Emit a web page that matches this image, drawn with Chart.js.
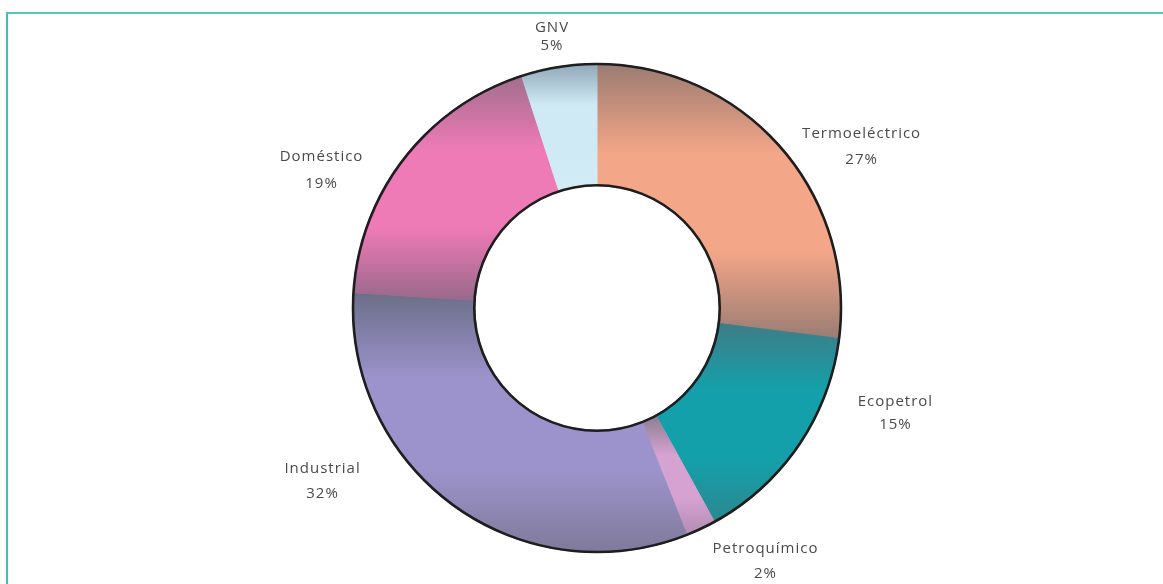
<!DOCTYPE html>
<html>
<head>
<meta charset="utf-8">
<script src="https://cdn.jsdelivr.net/npm/chart.js@4"></script>
<style>
  html, body { margin: 0; padding: 0; background: #fff; }
  #wrap { position: relative; width: 1163px; height: 584px; overflow: hidden; }
  #frame { position: absolute; left: 6px; top: 12px; right: 0; bottom: -10px;
           border-top: 2px solid #55c9b9; border-left: 2px solid #3fbfae; }
  canvas { position: absolute; left: 0; top: 0; }
</style>
</head>
<body>
<div id="wrap">
  <div id="frame"></div>
  <canvas id="chart" width="1163" height="584"></canvas>
</div>
<script>
// Datos del gráfico (consumo de gas por sector)
const SECTORS = ["Termoeléctrico", "Ecopetrol", "Petroquímico", "Industrial", "Doméstico", "GNV"];
const SHARES = [27, 15, 2, 32, 19, 5];
const SHARE_LABELS = ["27%", "15%", "2%", "32%", "19%", "5%"];

// Colores de cada porción: parte alta, centro, parte baja (degradado vertical)
const TOP_COLOR = ["#9a7b71", "#3e7c86", "#8a7e92", "#6b6e88", "#a06e8c", "#8fa6b6"];
const MID_COLOR = ["#f4a688", "#14a0aa", "#d6a2d2", "#9c93cc", "#ee7ab6", "#cfeaf5"];
const BOT_COLOR = ["#9a7c73", "#2c878f", "#b28cb4", "#7f7a9a", "#98698a", "#d2ecf6"];

// Posición de etiquetas: ángulo (grados desde arriba) y distancia relativa al radio
const LABEL_ANGLE = [58.6, 109.4, 146.4, 237.7, 296.6, -9.4];
const LABEL_DIST = [1.268, 1.294, 1.245, 1.328, 1.26, 1.126];
const LABEL_GAP = [26, 23, 25, 25, 27, 18];

const CUTOUT = 0.5;
const gradientCache = {};

function sliceGradient(chart, i) {
  const area = chart.chartArea;
  if (!area) return MID_COLOR[i];
  const cx = (area.left + area.right) / 2;
  const cy = (area.top + area.bottom) / 2;
  const R = Math.min(area.right - area.left, area.bottom - area.top) / 2;
  const key = i + ":" + cx + "," + cy + "," + R;
  if (gradientCache[key]) return gradientCache[key];
  const total = SHARES.reduce((s, v) => s + v, 0);
  const before = SHARES.slice(0, i).reduce((s, v) => s + v, 0);
  const a0 = before / total * Math.PI * 2;
  const a1 = (before + SHARES[i]) / total * Math.PI * 2;
  // extensión vertical de la porción
  let yMin = Infinity, yMax = -Infinity;
  for (let k = 0; k <= 40; k++) {
    const a = a0 + (a1 - a0) * k / 40;
    [R, R * CUTOUT].forEach((r) => {
      const y = cy - r * Math.cos(a);
      yMin = Math.min(yMin, y);
      yMax = Math.max(yMax, y);
    });
  }
  const g = chart.ctx.createLinearGradient(0, yMin, 0, yMax);
  g.addColorStop(0, TOP_COLOR[i]);
  g.addColorStop(0.33, MID_COLOR[i]);
  g.addColorStop(0.68, MID_COLOR[i]);
  g.addColorStop(1, BOT_COLOR[i]);
  gradientCache[key] = g;
  return g;
}

// Contorno negro exterior e interior del anillo
const ringOutline = {
  id: "ringOutline",
  afterDatasetsDraw(chart) {
    const arc = chart.getDatasetMeta(0).data[0];
    if (!arc) return;
    const { x, y, outerRadius, innerRadius } = arc.getProps(["x", "y", "outerRadius", "innerRadius"], true);
    const ctx = chart.ctx;
    ctx.save();
    ctx.strokeStyle = "#1e1e1e";
    ctx.lineWidth = 2.6;
    ctx.beginPath();
    ctx.arc(x, y, outerRadius - 0.5, 0, Math.PI * 2);
    ctx.stroke();
    ctx.beginPath();
    ctx.arc(x, y, innerRadius + 0.5, 0, Math.PI * 2);
    ctx.stroke();
    ctx.restore();
  }
};

// Etiquetas de sector fuera del anillo
const sectorLabels = {
  id: "sectorLabels",
  afterDraw(chart) {
    const arc = chart.getDatasetMeta(0).data[0];
    if (!arc) return;
    const { x, y, outerRadius } = arc.getProps(["x", "y", "outerRadius"], true);
    const ctx = chart.ctx;
    ctx.save();
    ctx.fillStyle = "#4a4a4a";
    ctx.font = "15px 'Open Sans', sans-serif";
    ctx.letterSpacing = "1px";
    ctx.textAlign = "center";
    ctx.textBaseline = "middle";
    SECTORS.forEach((name, i) => {
      const a = LABEL_ANGLE[i] * Math.PI / 180;
      const r = outerRadius * LABEL_DIST[i];
      const lx = x + r * Math.sin(a);
      const ly = y - r * Math.cos(a);
      ctx.fillText(name, lx, ly - LABEL_GAP[i] / 2);
      ctx.fillText(SHARE_LABELS[i], lx, ly + LABEL_GAP[i] / 2);
    });
    ctx.restore();
  }
};

new Chart(document.getElementById("chart"), {
  type: "doughnut",
  data: {
    labels: SECTORS,
    datasets: [{
      data: SHARES,
      backgroundColor: (c) => sliceGradient(c.chart, c.dataIndex),
      borderColor: (c) => sliceGradient(c.chart, c.dataIndex),
      borderWidth: 1
    }]
  },
  options: {
    responsive: false,
    animation: false,
    cutout: CUTOUT * 100 + "%",
    layout: { padding: { left: 352, right: 321, top: 63, bottom: 31 } },
    plugins: {
      legend: { display: false },
      tooltip: { enabled: false }
    }
  },
  plugins: [ringOutline, sectorLabels]
});
</script>
</body>
</html>
